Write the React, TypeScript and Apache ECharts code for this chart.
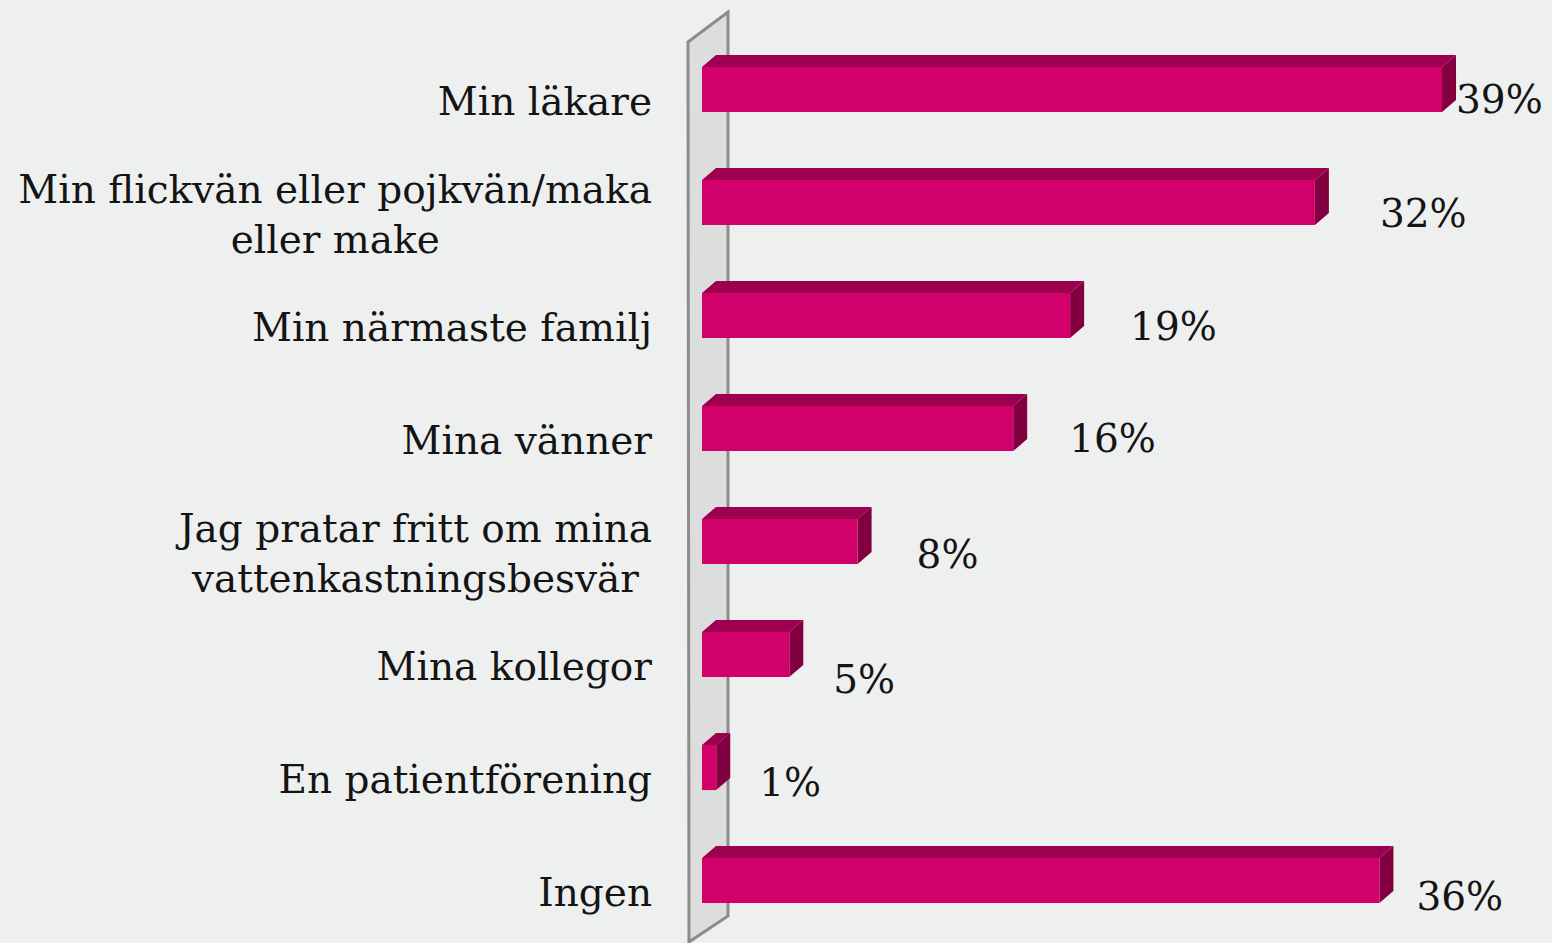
import React, { useEffect, useRef } from "react";
import * as echarts from "echarts";

const categories = [
  "Min läkare",
  "Min flickvän eller pojkvän/maka\neller make",
  "Min närmaste familj",
  "Mina vänner",
  "Jag pratar fritt om mina\nvattenkastningsbesvär",
  "Mina kollegor",
  "En patientförening",
  "Ingen",
];
// bar lengths (in %)
const values = [39.0, 32.3, 19.4, 16.4, 8.2, 4.6, 0.75, 35.7];
// printed labels
const valueLabels = ["39%", "32%", "19%", "16%", "8%", "5%", "1%", "36%"];

// manual label placement (styling, not data)
const labelGapX = [0, 51, 46, 42, 45, 30, 29, 23];
const labelShiftY = [10, 11, 11, 10, 13, 25, 15, 16];

const FONT_SIZE = 39;
const FONT_FAMILY = "'DejaVu Serif', serif";
const DX = 14;
const DY = -12;
const FRONT = "#d1006b";
const TOP = "#9e0050";
const SIDE = "#82003f";
const TEXT = "#141414";

export default function App() {
  const ref = useRef<HTMLDivElement>(null);

  useEffect(() => {
    if (!ref.current) return;
    const chart = echarts.init(ref.current, undefined, { renderer: "svg" });

    const canvas = document.createElement("canvas");
    const ctx = canvas.getContext("2d")!;
    ctx.font = `${FONT_SIZE}px "DejaVu Serif"`;
    const catWidths = categories.map((c) =>
      Math.max(...c.split("\n").map((l) => ctx.measureText(l).width))
    );

    const option: any = {
      animation: false,
      backgroundColor: "#eeefef",
      grid: { left: 702, right: 91, top: 33, bottom: 6 },
      xAxis: { type: "value", min: 0, max: 40, show: false },
      yAxis: {
        type: "category",
        data: categories,
        inverse: true,
        show: false,
      },
      graphic: [
        {
          type: "polygon",
          z: 0,
          shape: {
            points: [
              [688, 42],
              [728, 12],
              [728, 916],
              [689, 942],
            ],
          },
          style: { fill: "#dcdede", stroke: "#8c8c8c", lineWidth: 3 },
        },
      ],
      series: [
        {
          type: "custom",
          z: 5,
          clip: false,
          data: values.map((v, i) => [v, i]),
          encode: { x: 0, y: 1 },
          renderItem: (params: any, api: any) => {
            const v = api.value(0);
            const i = api.value(1);
            const start = api.coord([0, i]);
            const end = api.coord([v, i]);
            const h = api.size([0, 1])[1] * 0.4;
            const cy = start[1];
            const y0 = cy - h / 2;
            const y1 = cy + h / 2;
            const x0 = start[0];
            const x1 = end[0];
            const lines = categories[i].split("\n").length;
            return {
              type: "group",
              children: [
                {
                  type: "polygon",
                  shape: {
                    points: [
                      [x0, y0],
                      [x0 + DX, y0 + DY],
                      [x1 + DX, y0 + DY],
                      [x1, y0],
                    ],
                  },
                  style: { fill: TOP },
                },
                {
                  type: "polygon",
                  shape: {
                    points: [
                      [x1, y0],
                      [x1 + DX, y0 + DY],
                      [x1 + DX, y1 + DY],
                      [x1, y1],
                    ],
                  },
                  style: { fill: SIDE },
                },
                {
                  type: "rect",
                  shape: { x: x0, y: y0, width: x1 - x0, height: h },
                  style: { fill: FRONT },
                },
                {
                  type: "text",
                  style: {
                    text: categories[i],
                    x: x0 - 50 - catWidths[i] / 2,
                    y: cy + 12,
                    align: "center",
                    verticalAlign: "middle",
                    fontSize: FONT_SIZE,
                    fontFamily: FONT_FAMILY,
                    lineHeight: lines > 1 ? 50 : FONT_SIZE * 1.2,
                    fill: TEXT,
                  },
                },
                {
                  type: "text",
                  style: {
                    text: valueLabels[i],
                    x: x1 + DX + labelGapX[i],
                    y: cy + labelShiftY[i],
                    align: "left",
                    verticalAlign: "middle",
                    fontSize: FONT_SIZE,
                    fontFamily: FONT_FAMILY,
                    fill: TEXT,
                  },
                },
              ],
            };
          },
        },
      ],
    };

    chart.setOption(option);
    return () => chart.dispose();
  }, []);

  return (
    <div
      ref={ref}
      style={{ position: "absolute", left: 0, top: 0, width: 1552, height: 943 }}
    />
  );
}
